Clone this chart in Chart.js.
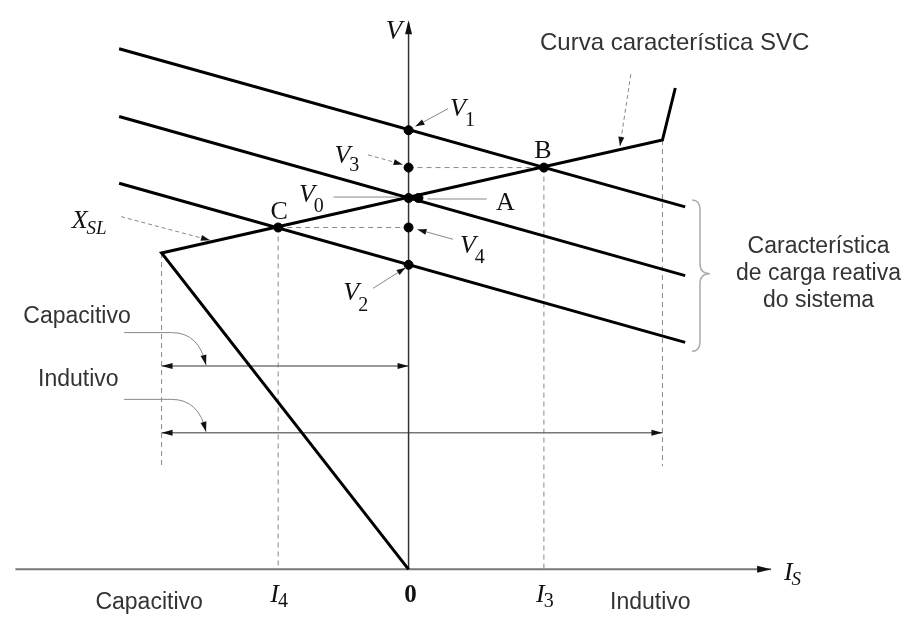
<!DOCTYPE html>
<html>
<head>
<meta charset="utf-8">
<script src="https://cdn.jsdelivr.net/npm/chart.js@4.4.1/dist/chart.umd.min.js"></script>
<style>
  html, body { margin: 0; padding: 0; background: #fff; }
  #wrap { width: 909px; height: 619px; }
</style>
</head>
<body>
<div id="wrap"><canvas id="svcChart"></canvas></div>
<script>
// eixo x = corrente Is (0 na origem), eixo y = tensao V
const loadLineX = [-293, 280];
const loadLineV1 = [530, 369];
const loadLineV0 = [461, 299];
const loadLineV2 = [393, 231];

// curva caracteristica do SVC
const svcX = [0, -250, 257, 270];
const svcY = [0, 322, 437, 490];

// pontos marcados
const pointNames = ['V1', 'V3', 'V0', 'A', 'V4', 'V2', 'B', 'C'];
const pointX = [0, 0, 0, 10, 0, 0, 137, -132];
const pointY = [447, 409, 378, 378, 348, 310, 409, 348];

// marcas no eixo das correntes
const tickNames = ['I4', '0', 'I3'];
const tickX = [-132, 0, 137];

// limites capacitivo / indutivo
const limitX = [-250, 257];
const limitTop = [322, 437];
const limitBottom = 105;
const rangeCapY = 207;
const rangeIndY = 139;

const xy = (xs, ys) => xs.map((x, i) => ({ x: x, y: ys[i] }));
const seg = (x1, y1, x2, y2) => [{ x: x1, y: y1 }, { x: x2, y: y2 }];

const dashed = { borderColor: '#888', borderWidth: 1, borderDash: [5, 4], order: 5 };
const thick = { borderColor: '#000', borderWidth: 3, order: 2 };

const datasets = [
  // eixos
  { data: seg(-398, 0, 367, 0), borderColor: '#777', borderWidth: 2, order: 4 },
  { data: seg(0, 0, 0, 556), borderColor: '#333', borderWidth: 1.5, order: 4 },
  // tracejados
  { data: seg(0, pointY[1], pointX[6], pointY[6]), ...dashed },
  { data: seg(pointX[7], pointY[7], 0, pointY[4]), ...dashed },
  { data: seg(tickX[2], pointY[6], tickX[2], 0), ...dashed },
  { data: seg(tickX[0], pointY[7], tickX[0], 0), ...dashed },
  { data: seg(limitX[0], limitTop[0], limitX[0], limitBottom), ...dashed },
  { data: seg(limitX[1], limitTop[1], limitX[1], limitBottom), ...dashed },
  // faixas capacitivo / indutivo
  { data: seg(limitX[0], rangeCapY, 0, rangeCapY), borderColor: '#777', borderWidth: 1.5, order: 4 },
  { data: seg(limitX[0], rangeIndY, limitX[1], rangeIndY), borderColor: '#777', borderWidth: 1.5, order: 4 },
  // caracteristicas de carga
  { data: xy(loadLineX, loadLineV1), ...thick },
  { data: xy(loadLineX, loadLineV0), ...thick },
  { data: xy(loadLineX, loadLineV2), ...thick },
  // SVC
  { data: xy(svcX, svcY), ...thick },
  // pontos
  { data: xy(pointX, pointY), showLine: false, pointRadius: 4.5, pointBackgroundColor: '#000', pointBorderColor: '#000', order: 1 }
];

function arrowHead(ctx, x1, y1, x2, y2, len, wid) {
  const a = Math.atan2(y2 - y1, x2 - x1);
  ctx.save();
  ctx.translate(x2, y2);
  ctx.rotate(a);
  ctx.beginPath();
  ctx.moveTo(0, 0);
  ctx.lineTo(-len, -wid);
  ctx.lineTo(-len, wid);
  ctx.closePath();
  ctx.fillStyle = '#111';
  ctx.fill();
  ctx.restore();
}

const SERIF = '"Liberation Serif", "DejaVu Serif", serif';
const SANS = '"Liberation Sans", Arial, sans-serif';

function subLabel(ctx, main, sub, x, y, opts) {
  const o = Object.assign({ size: 26, subSize: 20, dy: 10, italic: true, subItalic: false }, opts || {});
  ctx.fillStyle = '#111';
  ctx.textAlign = 'left';
  ctx.textBaseline = 'alphabetic';
  ctx.font = (o.italic ? 'italic ' : '') + o.size + 'px ' + SERIF;
  ctx.fillText(main, x, y);
  const w = ctx.measureText(main).width;
  if (sub) {
    ctx.font = (o.subItalic ? 'italic ' : '') + o.subSize + 'px ' + SERIF;
    ctx.fillText(sub, x + w - 1, y + o.dy);
  }
}

const diagramPlugin = {
  id: 'diagram',
  afterDatasetsDraw(chart) {
    const ctx = chart.ctx;
    const sx = chart.scales.x, sy = chart.scales.y;
    const X = v => sx.getPixelForValue(v);
    const Y = v => sy.getPixelForValue(v);

    // pontas dos eixos
    arrowHead(ctx, X(0), Y(0), X(0), Y(559), 14, 3.5);
    arrowHead(ctx, X(-398), Y(0), X(367), Y(0), 14, 3.5);

    // pontas das faixas
    arrowHead(ctx, X(-200), Y(rangeCapY), X(limitX[0]), Y(rangeCapY), 11, 3);
    arrowHead(ctx, X(-50), Y(rangeCapY), X(0), Y(rangeCapY), 11, 3);
    arrowHead(ctx, X(-200), Y(rangeIndY), X(limitX[0]), Y(rangeIndY), 11, 3);
    arrowHead(ctx, X(200), Y(rangeIndY), X(limitX[1]), Y(rangeIndY), 11, 3);

    // linhas de chamada
    ctx.save();
    ctx.strokeStyle = '#888';
    ctx.lineWidth = 1;
    const leaders = [
      [40, 469, 7, 451, false, true],
      [-41, 422, -6, 412, true, true],
      [-76, 379, -10, 379, false, false],
      [19, 377, 79, 377, false, false],
      [45, 336, 9, 346, false, true],
      [-36, 286, -3, 307, false, true],
      [-291, 359, -201, 335, true, true],
      [225, 504, 214, 431, true, true]
    ];
    leaders.forEach(l => {
      ctx.setLineDash(l[4] ? [4, 3] : []);
      ctx.beginPath();
      ctx.moveTo(X(l[0]), Y(l[1]));
      ctx.lineTo(X(l[2]), Y(l[3]));
      ctx.stroke();
      if (l[5]) arrowHead(ctx, X(l[0]), Y(l[1]), X(l[2]), Y(l[3]), 9, 3);
    });
    ctx.setLineDash([]);
    // chamadas curvas
    [rangeCapY, rangeIndY].forEach(yy => {
      ctx.beginPath();
      ctx.moveTo(X(-288), Y(yy + 34));
      ctx.lineTo(X(-240), Y(yy + 34));
      ctx.quadraticCurveTo(X(-212), Y(yy + 34), X(-205), Y(yy + 1));
      ctx.stroke();
      arrowHead(ctx, X(-210), Y(yy + 20), X(-205), Y(yy + 1), 10, 3);
    });
    // chave
    ctx.strokeStyle = '#aaa';
    ctx.lineWidth = 1.5;
    ctx.beginPath();
    ctx.moveTo(X(287), Y(376));
    ctx.quadraticCurveTo(X(295), Y(376), X(295), Y(366));
    ctx.lineTo(X(295), Y(311));
    ctx.quadraticCurveTo(X(295), Y(301), X(305), Y(301));
    ctx.quadraticCurveTo(X(295), Y(301), X(295), Y(291));
    ctx.lineTo(X(295), Y(232));
    ctx.quadraticCurveTo(X(295), Y(222), X(287), Y(222));
    ctx.stroke();
    ctx.restore();

    // rotulos em serifa
    ctx.save();
    subLabel(ctx, 'V', '', X(-23), Y(540), { size: 27 });
    subLabel(ctx, 'V', '1', X(42), Y(461));
    subLabel(ctx, 'V', '3', X(-75), Y(414), { dy: 8 });
    subLabel(ctx, 'V', '0', X(-111), Y(374));
    subLabel(ctx, 'V', '4', X(52), Y(322));
    subLabel(ctx, 'V', '2', X(-66), Y(274), { dy: 11 });
    subLabel(ctx, 'X', 'SL', X(-341), Y(347), { dy: 6, subItalic: true, subSize: 19 });
    subLabel(ctx, 'I', 'S', X(380), Y(-11), { dy: 5, subItalic: true, subSize: 19 });

    ctx.font = '26px ' + SERIF;
    ctx.textAlign = 'center';
    ctx.fillText('A', X(98), Y(366));
    ctx.fillText('B', X(136), Y(419));
    ctx.fillText('C', X(-131), Y(357));

    // marcas do eixo
    tickNames.forEach((t, i) => {
      if (t === '0') {
        ctx.font = 'bold 25px ' + SERIF;
        ctx.textAlign = 'center';
        ctx.fillStyle = '#111';
        ctx.fillText(t, X(tickX[i] + 2), Y(-33));
      } else {
        subLabel(ctx, t[0], t.slice(1), X(tickX[i] - 8), Y(-33), { dy: 5 });
      }
    });

    // textos em portugues
    ctx.fillStyle = '#333';
    ctx.font = '24px ' + SANS;
    ctx.textAlign = 'left';
    ctx.fillText('Curva característica SVC', X(133), Y(529));
    ctx.font = '23px ' + SANS;
    ctx.fillText('Capacitivo', X(-390), Y(251));
    ctx.fillText('Indutivo', X(-375), Y(187));
    ctx.fillText('Capacitivo', X(-317), Y(-40));
    ctx.fillText('Indutivo', X(204), Y(-40));
    ctx.textAlign = 'center';
    ctx.fillText('Característica', X(415), Y(322));
    ctx.fillText('de carga reativa', X(415), Y(295));
    ctx.fillText('do sistema', X(415), Y(267));
    ctx.restore();
  }
};

new Chart(document.getElementById('svcChart'), {
  type: 'scatter',
  data: { datasets: datasets },
  options: {
    animation: false,
    responsive: true,
    maintainAspectRatio: false,
    layout: { padding: 0 },
    elements: { point: { radius: 0 }, line: { tension: 0 } },
    datasets: { scatter: { showLine: true } },
    plugins: { legend: { display: false }, tooltip: { enabled: false } },
    scales: {
      x: { type: 'linear', min: -408, max: 501, display: false },
      y: { type: 'linear', min: -45, max: 574, display: false }
    }
  },
  plugins: [diagramPlugin]
});
</script>
</body>
</html>
